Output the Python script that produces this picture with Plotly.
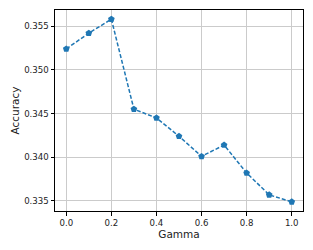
import plotly.graph_objects as go

gamma = [0.0, 0.1, 0.2, 0.3, 0.4, 0.5, 0.6, 0.7, 0.8, 0.9, 1.0]
accuracy = [0.3524, 0.3542, 0.3558, 0.3455, 0.3445, 0.3424, 0.3401, 0.3414, 0.3382, 0.3357, 0.3349]
x_ticks = [0.0, 0.2, 0.4, 0.6, 0.8, 1.0]
x_tick_labels = ["0.0", "0.2", "0.4", "0.6", "0.8", "1.0"]
y_ticks = [0.335, 0.340, 0.345, 0.350, 0.355]
y_tick_labels = ["0.335", "0.340", "0.345", "0.350", "0.355"]

fig = go.Figure()
fig.add_trace(go.Scatter(
    x=gamma, y=accuracy, mode="lines+markers",
    line=dict(color="#1f77b4", width=1.5, dash="4px,2px"),
    marker=dict(symbol="pentagon", size=7, color="#1f77b4"),
    showlegend=False,
))

font = "DejaVu Sans, sans-serif"
axis_common = dict(
    showline=True, linecolor="black", linewidth=1, mirror=True,
    ticks="outside", ticklen=3.5, tickcolor="black", tickwidth=1,
    showgrid=True, gridcolor="#cbcbcb", gridwidth=1,
    zeroline=False, tickfont=dict(family=font, size=8.6, color="#222"),
)
fig.update_layout(
    width=313, height=250,
    margin=dict(l=55, r=10, t=10, b=39, autoexpand=False),
    plot_bgcolor="white", paper_bgcolor="white",
    xaxis=dict(range=[-0.05, 1.05], tickvals=x_ticks, ticktext=x_tick_labels,
               title=dict(text="Gamma", font=dict(family=font, size=10.5, color="#222"), standoff=0),
               **axis_common),
    yaxis=dict(range=[0.33385, 0.35685], tickvals=y_ticks, ticktext=y_tick_labels,
               title=dict(text="Accuracy", font=dict(family=font, size=10.5, color="#222"), standoff=2),
               **axis_common),
)
fig.write_html("out.html", post_script="document.body.style.margin='0';",
               config={"displayModeBar": False})
